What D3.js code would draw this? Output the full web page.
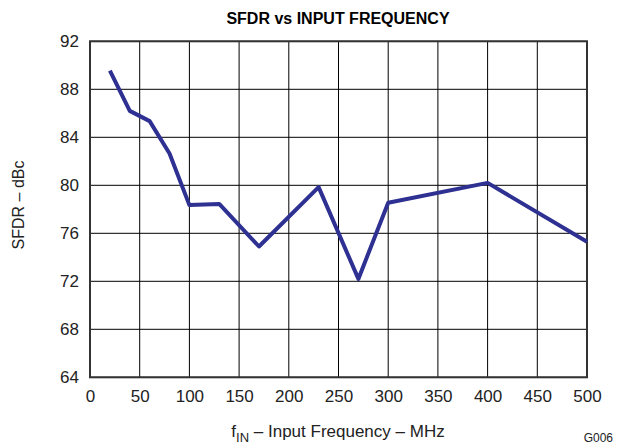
<!DOCTYPE html>
<html><head><meta charset="utf-8">
<script src="https://cdn.jsdelivr.net/npm/d3@7"></script>
<style>body{margin:0;background:#fff;} text{font-family:"Liberation Sans",Arial,sans-serif;}</style>
</head><body><svg id="c" width="627" height="447"></svg>
<script>
const freq = [20, 40, 60, 80, 100, 130, 170, 230, 270, 300, 400, 500];
const sfdr = [89.55, 86.2, 85.35, 82.65, 78.35, 78.45, 74.9, 79.85, 72.2, 78.55, 80.2, 75.3];
const xTicks = [0, 50, 100, 150, 200, 250, 300, 350, 400, 450, 500];
const yTicks = [64, 68, 72, 76, 80, 84, 88, 92];

const svg = d3.select("#c");
const L = 90, R = 587, T = 41.3, B = 377.3;
const x = d3.scaleLinear().domain([0, 500]).range([L, R]);
const y = d3.scaleLinear().domain([64, 92]).range([B, T]);

const g = svg.append("g");
g.selectAll(".vx").data(xTicks).join("line")
  .attr("x1", d => x(d)).attr("x2", d => x(d)).attr("y1", T).attr("y2", B)
  .attr("stroke", "#000").attr("stroke-width", 1);
g.selectAll(".hy").data(yTicks).join("line")
  .attr("y1", d => y(d)).attr("y2", d => y(d)).attr("x1", L).attr("x2", R)
  .attr("stroke", "#000").attr("stroke-width", 1);
g.append("rect").attr("x", L).attr("y", T).attr("width", R - L).attr("height", B - T)
  .attr("fill", "none").attr("stroke", "#333").attr("stroke-width", 2);

const xAxis = d3.axisBottom(x).tickValues(xTicks).tickSize(0).tickPadding(13);
const yAxis = d3.axisLeft(y).tickValues(yTicks).tickSize(0).tickPadding(11);
const gx = svg.append("g").attr("transform", `translate(0,${B})`).call(xAxis);
const gy = svg.append("g").attr("transform", `translate(${L},0)`).call(yAxis);
[gx, gy].forEach(a => {
  a.select(".domain").remove();
  a.selectAll("text").attr("font-size", 17).attr("fill", "#222").attr("font-family", "Liberation Sans, Arial, sans-serif");
});

svg.append("path").datum(freq.map((f, i) => [f, sfdr[i]]))
  .attr("fill", "none").attr("stroke", "#2e3192").attr("stroke-width", 4)
  .attr("stroke-linejoin", "round")
  .attr("d", d3.line().x(d => x(d[0])).y(d => y(d[1])));

svg.append("text").attr("x", 338).attr("y", 24).attr("text-anchor", "middle")
  .attr("font-size", 16).attr("font-weight", "bold").attr("fill", "#000")
  .text("SFDR vs INPUT FREQUENCY");
svg.append("text").attr("transform", "translate(24,205) rotate(-90)")
  .attr("text-anchor", "middle").attr("font-size", 16).attr("fill", "#222")
  .text("SFDR – dBc");
const xl = svg.append("text").attr("x", 338).attr("y", 437).attr("text-anchor", "middle")
  .attr("font-size", 17).attr("fill", "#222");
xl.append("tspan").text("f");
xl.append("tspan").attr("font-size", 13).attr("dy", 5).text("IN");
xl.append("tspan").attr("dy", -5).text(" – Input Frequency – MHz");
svg.append("text").attr("x", 613).attr("y", 442).attr("text-anchor", "end")
  .attr("font-size", 12).attr("fill", "#222").text("G006");
</script></body></html>
